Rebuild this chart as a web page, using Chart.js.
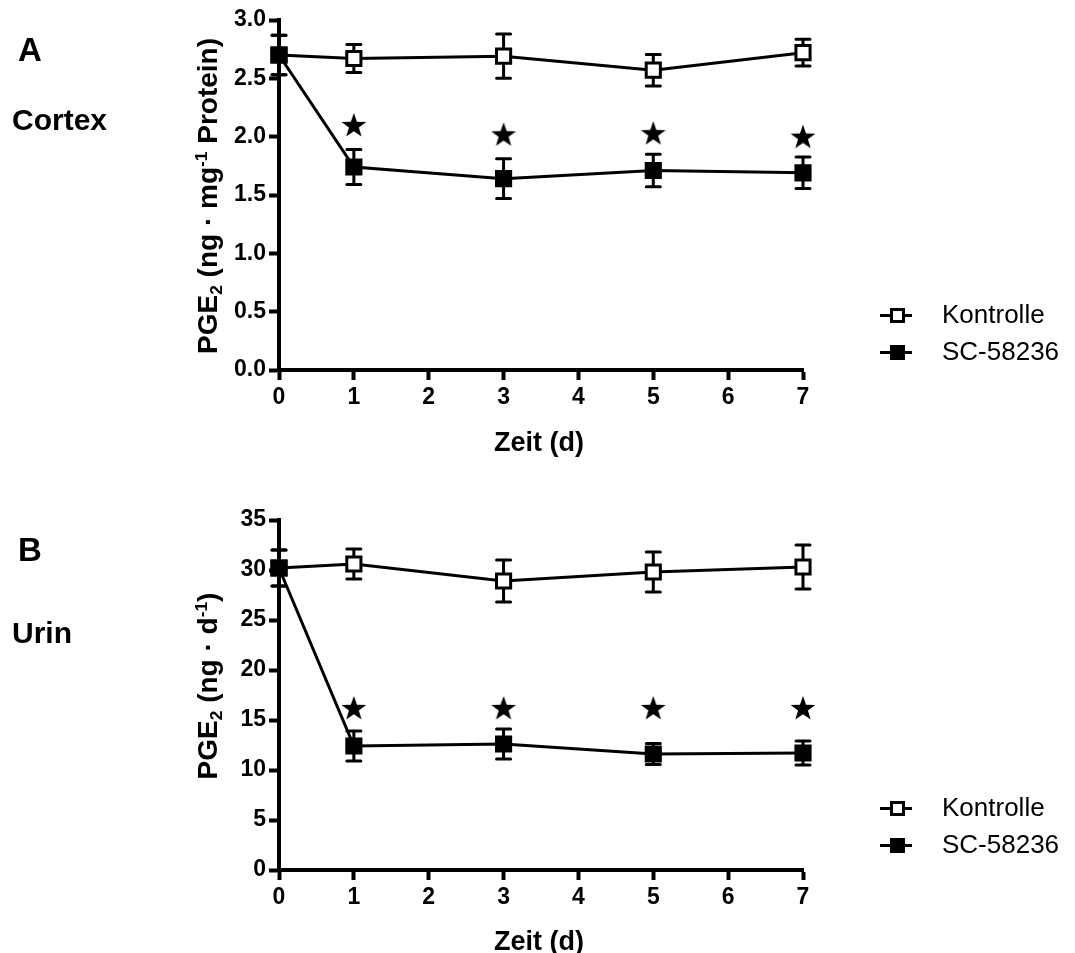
<!DOCTYPE html>
<html><head><meta charset="utf-8">
<script src="https://cdn.jsdelivr.net/npm/chart.js@4.4.1/dist/chart.umd.min.js"></script>
<style>
html,body{margin:0;padding:0;background:#fff;}
body{width:1075px;height:953px;position:relative;overflow:hidden;font-family:'Liberation Sans',Arial,sans-serif;color:#000;}
.cv{position:absolute;left:0;}
.t{position:absolute;white-space:nowrap;line-height:1;}
.b{font-weight:bold;}
.yt{position:absolute;white-space:nowrap;line-height:1;font-weight:bold;font-size:28px;transform:translate(-50%,-50%) rotate(-90deg);}
.sub{font-size:62%;position:relative;top:0.3em;}
.sup{font-size:62%;position:relative;top:-0.6em;}
.lg{position:absolute;left:880px;width:32px;height:3px;background:#000;}
.lg i{position:absolute;left:10px;top:-6px;width:9px;height:9px;border:3px solid #000;background:#fff;}
.lg i.f{background:#000;}
</style>
</head><body>
<div class="cv" style="top:0"><canvas id="cA" width="1075" height="476"></canvas></div>
<div class="cv" style="top:476px"><canvas id="cB" width="1075" height="477"></canvas></div>

<div class="t b" style="left:18px;top:33px;font-size:33px">A</div>
<div class="t b" style="left:12px;top:105px;font-size:30px">Cortex</div>
<div class="t b" style="left:18px;top:533px;font-size:33px">B</div>
<div class="t b" style="left:12px;top:618px;font-size:30px">Urin</div>

<div class="yt" style="left:208px;top:196px">PGE<span class="sub">2</span> (ng · mg<span class="sup">-1</span> Protein)</div>
<div class="yt" style="left:208px;top:686px">PGE<span class="sub">2</span> (ng · d<span class="sup">-1</span>)</div>

<div class="t b" style="left:539px;top:429px;font-size:27px;transform:translateX(-50%)">Zeit (d)</div>
<div class="t b" style="left:539px;top:928px;font-size:27px;transform:translateX(-50%)">Zeit (d)</div>

<div class="lg" style="top:314px"><i></i></div>
<div class="t" style="left:942px;top:301px;font-size:26px">Kontrolle</div>
<div class="lg" style="top:351px"><i class="f"></i></div>
<div class="t" style="left:942px;top:338px;font-size:26px">SC-58236</div>

<div class="lg" style="top:807px"><i></i></div>
<div class="t" style="left:942px;top:794px;font-size:26px">Kontrolle</div>
<div class="lg" style="top:844px"><i class="f"></i></div>
<div class="t" style="left:942px;top:831px;font-size:26px">SC-58236</div>

<script>
// ---- data ----
const days = [0, 1, 3, 5, 7];
const starDays = [1, 3, 5, 7];
const seriesNames = ['Kontrolle', 'SC-58236'];

const cortexKontrolle    = [2.70, 2.67, 2.69, 2.57, 2.72];
const cortexKontrolleErr = [0.17, 0.12, 0.19, 0.135, 0.115];
const cortexSC           = [2.70, 1.74, 1.64, 1.71, 1.69];
const cortexSCErr        = [0.17, 0.15, 0.17, 0.14, 0.135];
const cortexStars        = [2.10, 2.02, 2.03, 2.00];

const urinKontrolle    = [30.2, 30.6, 28.9, 29.8, 30.3];
const urinKontrolleErr = [1.8, 1.5, 2.1, 2.0, 2.2];
const urinSC           = [30.2, 12.4, 12.6, 11.6, 11.7];
const urinSCErr        = [1.8, 1.5, 1.5, 1.05, 1.2];
const urinStars        = [16.2, 16.2, 16.2, 16.2];

// ---- star marker ----
function starImage(size) {
  const c = document.createElement('canvas');
  c.width = size; c.height = size;
  const g = c.getContext('2d');
  const cx = size / 2, cy = size / 2 + 1, R = size / 2, r = R * 0.4;
  g.beginPath();
  for (let i = 0; i < 10; i++) {
    const a = -Math.PI / 2 + i * Math.PI / 5;
    const rr = i % 2 === 0 ? R : r;
    g.lineTo(cx + rr * Math.cos(a), cy + rr * Math.sin(a));
  }
  g.closePath();
  g.fillStyle = '#000';
  g.fill();
  return c;
}
const star = starImage(26);

const errorBars = {
  id: 'errorBars',
  beforeDatasetsDraw(chart) {
    const ctx = chart.ctx, xs = chart.scales.x, ys = chart.scales.y;
    ctx.save();
    ctx.strokeStyle = '#000';
    ctx.lineWidth = 3;
    ctx.lineCap = 'round';
    chart.data.datasets.forEach(ds => {
      if (!ds.errors) return;
      ds.data.forEach((p, i) => {
        const e = ds.errors[i];
        const x = xs.getPixelForValue(p.x);
        const yt = ys.getPixelForValue(p.y + e);
        const yb = ys.getPixelForValue(p.y - e);
        ctx.beginPath();
        ctx.moveTo(x, yt); ctx.lineTo(x, yb);
        ctx.moveTo(x - 7, yt); ctx.lineTo(x + 7, yt);
        ctx.moveTo(x - 7, yb); ctx.lineTo(x + 7, yb);
        ctx.stroke();
      });
    });
    ctx.restore();
  }
};

function pts(xs, ys) { return xs.map((x, i) => ({ x: x, y: ys[i] })); }

const FONT = "'Liberation Sans', Arial, sans-serif";

function makeChart(id, kon, konErr, sc, scErr, stars, yMax, yStep, dec, padTop, padBottom) {
  return new Chart(document.getElementById(id), {
    type: 'scatter',
    data: {
      datasets: [
        {
          label: seriesNames[1], data: pts(days, sc), errors: scErr, order: 0,
          showLine: true, borderColor: '#000', borderWidth: 3, backgroundColor: '#000',
          pointStyle: 'rect', pointRadius: 10, pointBorderWidth: 3,
          pointBackgroundColor: '#000', pointBorderColor: '#000', clip: false
        },
        {
          label: seriesNames[0], data: pts(days, kon), errors: konErr, order: 1,
          showLine: true, borderColor: '#000', borderWidth: 3, backgroundColor: '#fff',
          pointStyle: 'rect', pointRadius: 10, pointBorderWidth: 3,
          pointBackgroundColor: '#fff', pointBorderColor: '#000', clip: false
        },
        {
          label: 'sig', data: pts(starDays, stars), order: 2,
          showLine: false, pointStyle: star, pointRadius: 13, clip: false
        }
      ]
    },
    options: {
      responsive: false,
      animation: false,
      events: [],
      layout: { padding: { left: 0, right: 272, top: padTop, bottom: padBottom } },
      plugins: { legend: { display: false }, tooltip: { enabled: false } },
      scales: {
        x: {
          type: 'linear', min: 0, max: 7,
          afterFit: s => { s.height = 80; },
          border: { display: true, color: '#000', width: 4 },
          grid: { display: true, drawOnChartArea: false, drawTicks: true, tickLength: 10, tickWidth: 4, tickColor: '#000', color: '#000' },
          ticks: { stepSize: 1, color: '#000', padding: 4, font: { family: FONT, size: 23, weight: 'bold' } }
        },
        y: {
          type: 'linear', min: 0, max: yMax,
          afterFit: s => { s.width = 279; },
          border: { display: true, color: '#000', width: 4 },
          grid: { display: true, drawOnChartArea: false, drawTicks: true, tickLength: 10, tickWidth: 4, tickColor: '#000', color: '#000' },
          ticks: { stepSize: yStep, color: '#000', padding: 3, font: { family: FONT, size: 23, weight: 'bold' },
                   callback: v => v.toFixed(dec) }
        }
      }
    },
    plugins: [errorBars]
  });
}

makeChart('cA', cortexKontrolle, cortexKontrolleErr, cortexSC, cortexSCErr, cortexStars, 3.0, 0.5, 1, 20, 26);
makeChart('cB', urinKontrolle, urinKontrolleErr, urinSC, urinSCErr, urinStars, 35, 5, 0, 44, 3);
</script>
</body></html>
